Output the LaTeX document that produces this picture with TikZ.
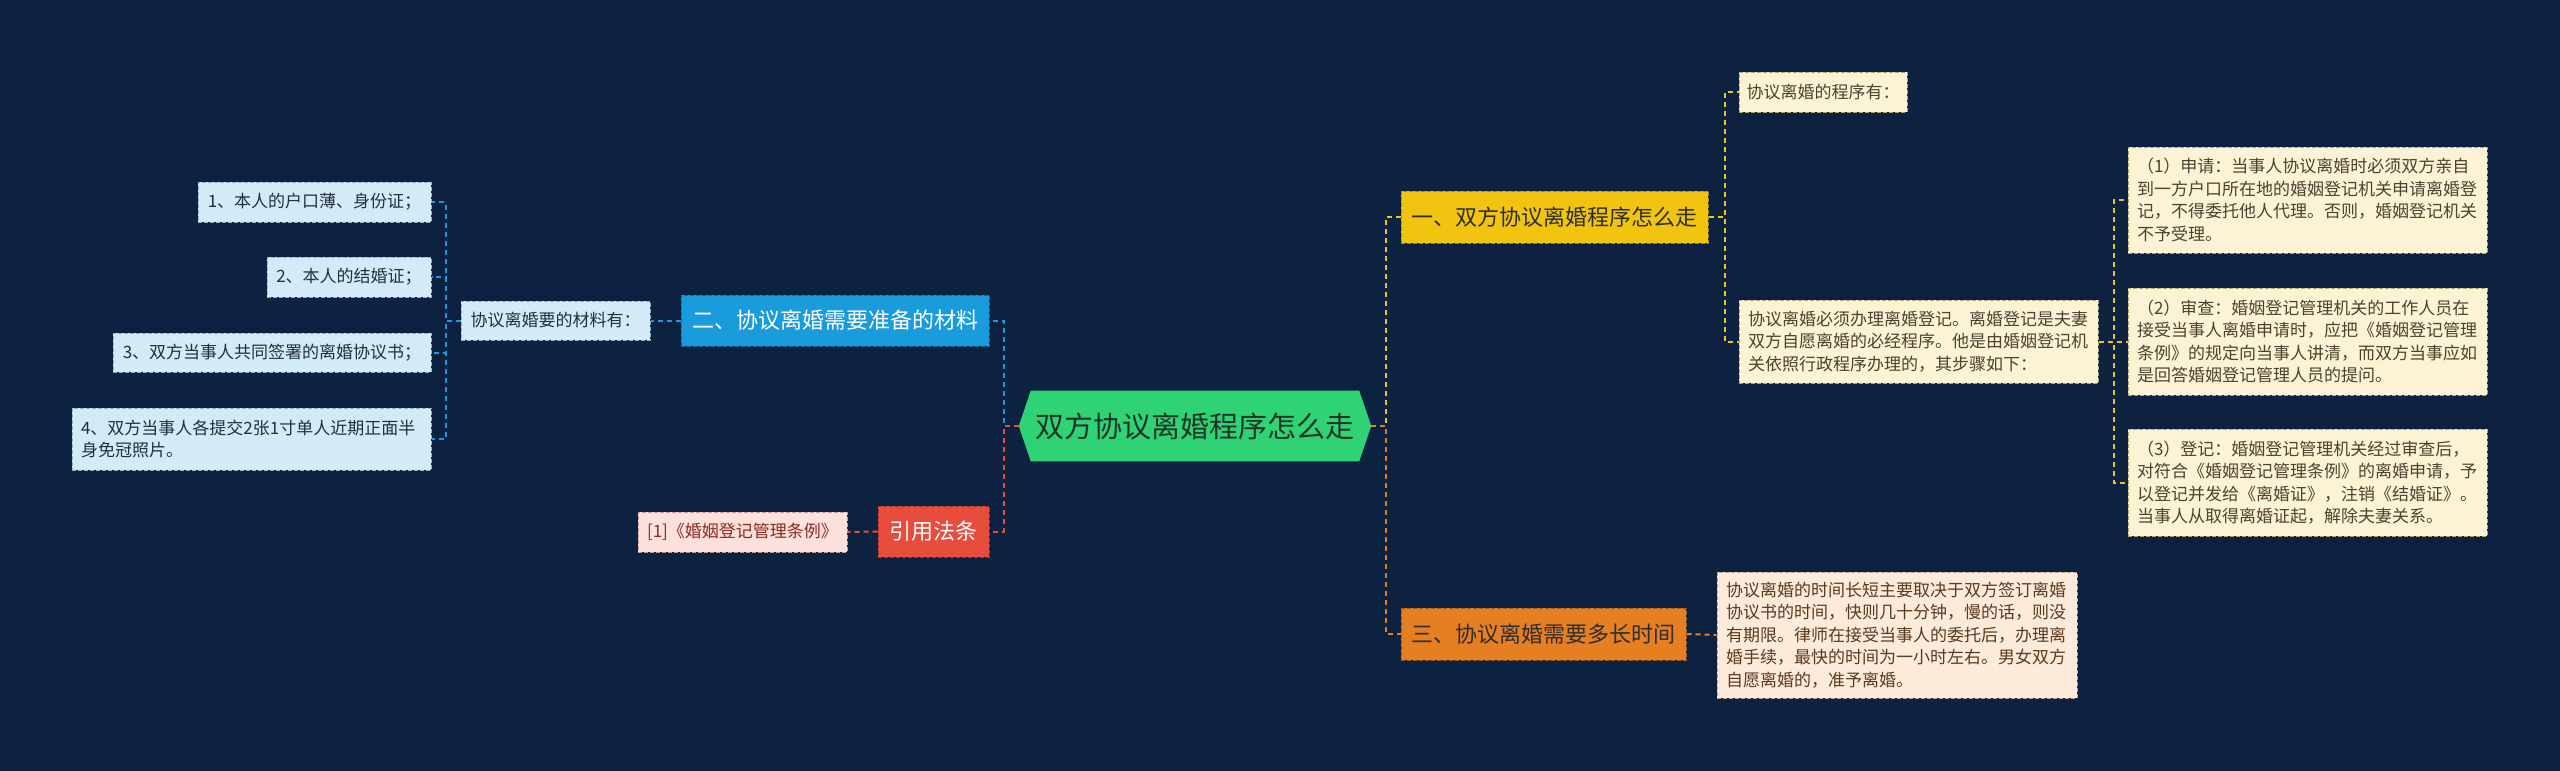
\documentclass[tikz,border=0pt]{standalone}
\usepackage{fontspec}
\setmainfont{Noto Sans CJK SC}
\usetikzlibrary{backgrounds}
\definecolor{bgc}{HTML}{0C2240}
\definecolor{rootc}{HTML}{2FD274}
\definecolor{roottxt}{HTML}{1F3527}
\definecolor{ycol}{HTML}{F1C40F}
\definecolor{yfill}{HTML}{FCF3D4}
\definecolor{ybord}{HTML}{B3A46A}
\definecolor{ytxt}{HTML}{4B4231}
\definecolor{ocol}{HTML}{E67E22}
\definecolor{ofill}{HTML}{FCEADB}
\definecolor{obord}{HTML}{C5A188}
\definecolor{otxt}{HTML}{5C3A1C}
\definecolor{bcol}{HTML}{1A9BDB}
\definecolor{bfill}{HTML}{D3EBF7}
\definecolor{bbord}{HTML}{8CB2C6}
\definecolor{btxt}{HTML}{22303C}
\definecolor{rcol}{HTML}{E74C3C}
\definecolor{rfill}{HTML}{FBE0DC}
\definecolor{rbord}{HTML}{C99A95}
\definecolor{rtxt}{HTML}{8B2A20}
\definecolor{darktxt}{HTML}{2E2E2E}
\begin{document}
\begin{tikzpicture}[x=0.75pt,y=-0.75pt,
  box/.style={inner sep=0pt, anchor=center},
  leaffont/.style={font=\fontsize{12.75pt}{16.9pt}\selectfont},
  leaf/.style={box, leaffont, draw, line width=0.75pt, dash pattern=on 3pt off 1.5pt},
  multi/.style={inner xsep=6.75pt, align=left},
  single/.style={align=center},
  yleaf/.style={leaf, fill=yfill, draw=ybord, text=ytxt},
  oleaf/.style={leaf, fill=ofill, draw=obord, text=otxt},
  bleaf/.style={leaf, fill=bfill, draw=bbord, text=btxt},
  rleaf/.style={leaf, fill=rfill, draw=rbord, text=rtxt},
  branch/.style={box, align=center, font=\fontsize{16.5pt}{20pt}\selectfont, line width=0.75pt, dash pattern=on 3pt off 1.5pt},
  con/.style={line width=1.5pt, dash pattern=on 3.75pt off 3pt},
  ycon/.style={con, draw=ycol},
  ocon/.style={con, draw=ocol},
  bcon/.style={con, draw=bcol},
  rcon/.style={con, draw=rcol}
]
% root (hexagon drawn on background layer)
\node[box, minimum width=264pt, minimum height=52.5pt, text=roottxt, font=\fontsize{21.75pt}{26pt}\selectfont] (root) at (1195,426) {双方协议离婚程序怎么走};

% right branches
\node[branch, fill=ycol, draw=ycol!70!black, text=darktxt, minimum width=230.25pt, minimum height=39pt] (b1) at (1554.5,217) {一、双方协议离婚程序怎么走};
\node[branch, fill=ocol, draw=ocol!70!black, text=darktxt, minimum width=213.75pt, minimum height=39pt] (b3) at (1543.5,634) {三、协议离婚需要多长时间};

% left branches
\node[branch, fill=bcol, draw=bcol!70!black, text=white, minimum width=231pt, minimum height=38.25pt] (b2) at (835,320.5) {二、协议离婚需要准备的材料};
\node[branch, fill=rcol, draw=rcol!70!black, text=white, minimum width=83.25pt, minimum height=38.25pt] (b4) at (933.5,531.5) {引用法条};

% yellow leaves
\node[yleaf, single, minimum width=126pt, minimum height=30pt] (y0) at (1823,92) {协议离婚的程序有：};
\node[yleaf, multi, text width=255.75pt, minimum height=62.25pt] (y1) at (1918.5,341.5) {协议离婚必须办理离婚登记。离婚登记是夫妻\\双方自愿离婚的必经程序。他是由婚姻登记机\\关依照行政程序办理的，其步骤如下：};
\node[yleaf, multi, text width=255.75pt, minimum height=79.5pt] (y2) at (2307.5,200) {（1）申请：当事人协议离婚时必须双方亲自\\到一方户口所在地的婚姻登记机关申请离婚登\\记，不得委托他人代理。否则，婚姻登记机关\\不予受理。};
\node[yleaf, multi, text width=255.75pt, minimum height=80.25pt] (y3) at (2307.5,341.5) {（2）审查：婚姻登记管理机关的工作人员在\\接受当事人离婚申请时，应把《婚姻登记管理\\条例》的规定向当事人讲清，而双方当事应如\\是回答婚姻登记管理人员的提问。};
\node[yleaf, multi, text width=255.75pt, minimum height=80.25pt] (y4) at (2307.5,482.5) {（3）登记：婚姻登记管理机关经过审查后，\\对符合《婚姻登记管理条例》的离婚申请，予\\以登记并发给《离婚证》，注销《结婚证》。\\当事人从取得离婚证起，解除夫妻关系。};

% orange leaf
\node[oleaf, multi, text width=256.5pt, minimum height=94.5pt] (o1) at (1897,635) {协议离婚的时间长短主要取决于双方签订离婚\\协议书的时间，快则几十分钟，慢的话，则没\\有期限。律师在接受当事人的委托后，办理离\\婚手续，最快的时间为一小时左右。男女双方\\自愿离婚的，准予离婚。};

% blue leaves
\node[bleaf, single, minimum width=141.75pt, minimum height=29.25pt] (l0) at (555.5,320.5) {协议离婚要的材料有：};
\node[bleaf, single, minimum width=174.75pt, minimum height=30pt] (l1) at (314.5,202) {1、本人的户口薄、身份证；};
\node[bleaf, single, minimum width=123pt, minimum height=30pt] (l2) at (349,277) {2、本人的结婚证；};
\node[bleaf, single, minimum width=238.5pt, minimum height=29.25pt] (l3) at (272,352.5) {3、双方当事人共同签署的离婚协议书；};
\node[bleaf, multi, text width=255.75pt, minimum height=46.5pt] (l4) at (251.5,439) {4、双方当事人各提交2张1寸单人近期正面半\\身免冠照片。};

% red leaf
\node[rleaf, single, minimum width=156.75pt, minimum height=30pt] (r1) at (742.5,532) {[1]《婚姻登记管理条例》};

% background and hexagon
\begin{scope}[on background layer]
\fill[bgc] (0,0) rectangle (2560,771);
\fill[rootc] (root.west) -- ([xshift=9pt]root.north west) -- ([xshift=-9pt]root.north east) -- (root.east) -- ([xshift=-9pt]root.south east) -- ([xshift=9pt]root.south west) -- cycle;
\end{scope}

% connectors: root to branches
\draw[ycon] (root.east) -- ++(15,0) |- (b1.west);
\draw[ocon] (root.east) -- ++(15,0) |- (b3.west);
\draw[bcon] (root.west) -- ++(-15,0) |- (b2.east);
\draw[rcon] (root.west) -- ++(-15,0) |- (b4.east);

% branch 1 children
\draw[ycon] (b1.east) -- ++(16,0) |- (y0.west);
\draw[ycon] (b1.east) -- ++(16,0) |- (y1.west);
\draw[ycon] (y1.east) -- ++(15,0) |- (y2.west);
\draw[ycon] (y1.east) -- ++(15,0) |- (y3.west);
\draw[ycon] (y1.east) -- ++(15,0) |- (y4.west);

% branch 3 child
\draw[ocon] (b3.east) -- (o1.west);

% branch 2 children
\draw[bcon] (b2.west) -- (l0.east);
\draw[bcon] (l0.west) -- ++(-15,0) |- (l1.east);
\draw[bcon] (l0.west) -- ++(-15,0) |- (l2.east);
\draw[bcon] (l0.west) -- ++(-15,0) |- (l3.east);
\draw[bcon] (l0.west) -- ++(-15,0) |- (l4.east);

% branch 4 child
\draw[rcon] (b4.west) -- (r1.east);
\end{tikzpicture}
\end{document}
